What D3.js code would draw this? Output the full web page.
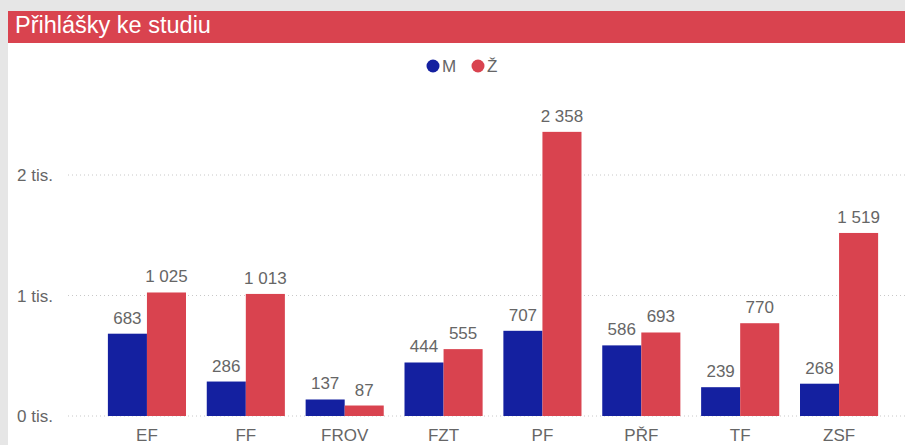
<!DOCTYPE html>
<html>
<head>
<meta charset="utf-8">
<script src="https://cdn.jsdelivr.net/npm/d3@7"></script>
<style>
  body { margin: 0; background: #e6e6e6; }
  svg { display: block; }
  text { font-family: "Liberation Sans", Arial, sans-serif; }
</style>
</head>
<body>
<svg id="chart" width="905" height="445"></svg>
<script>
const categories = ["EF", "FF", "FROV", "FZT", "PF", "PŘF", "TF", "ZSF"];
const seriesNames = ["M", "Ž"];
const valuesM = [683, 286, 137, 444, 707, 586, 239, 268];
const valuesZ = [1025, 1013, 87, 555, 2358, 693, 770, 1519];
const yTicks = [0, 1000, 2000];
const colors = ["#1420a0", "#d9434f"];

const width = 905, height = 445;
const margin = { top: 60, right: 17, left: 98, bottom: 29 };

const svg = d3.select("#chart");

// panel + title bar
svg.append("rect").attr("x", 8).attr("y", 11).attr("width", width - 8).attr("height", height - 11).attr("fill", "#fff");
svg.append("rect").attr("x", 8).attr("y", 11).attr("width", width - 8).attr("height", 32).attr("fill", "#d9434f");
svg.append("text").attr("x", 15).attr("y", 33).attr("fill", "#fff")
  .attr("font-size", 23.5).text("Přihlášky ke studiu");

const x = d3.scaleBand().domain(categories).range([margin.left, width - margin.right]).paddingInner(0.21).paddingOuter(0.1);
const x1 = d3.scaleBand().domain(seriesNames).range([0, x.bandwidth()]);
const y = d3.scaleLinear().domain([0, 2000]).range([416, 175]);

// gridlines
svg.append("g").selectAll("line").data(yTicks).join("line")
  .attr("x1", 68).attr("x2", width)
  .attr("y1", d => y(d)).attr("y2", d => y(d))
  .attr("stroke", "#c8c8c8").attr("stroke-width", 1).attr("stroke-dasharray", "1,3");

svg.append("g").selectAll("text").data(yTicks).join("text")
  .attr("x", 17).attr("y", d => y(d) + 6)
  .attr("fill", "#666").attr("font-size", 17)
  .text(d => (d / 1000) + " tis.");

const rows = categories.map((c, i) => ({ cat: c, vals: [valuesM[i], valuesZ[i]] }));
const fmt = v => d3.format(",")(v).replace(/,/g, " ");

const groups = svg.append("g").selectAll("g").data(rows).join("g")
  .attr("transform", d => `translate(${x(d.cat)},0)`);

groups.selectAll("rect").data(d => d.vals.map((v, k) => ({ k, v }))).join("rect")
  .attr("x", d => x1(seriesNames[d.k]))
  .attr("width", x1.bandwidth())
  .attr("y", d => y(d.v))
  .attr("height", d => y(0) - y(d.v))
  .attr("fill", d => colors[d.k]);

groups.selectAll("text.val").data(d => d.vals.map((v, k) => ({ k, v }))).join("text")
  .attr("class", "val")
  .attr("x", d => x1(seriesNames[d.k]) + x1.bandwidth() / 2)
  .attr("y", d => y(d.v) - 10)
  .attr("text-anchor", "middle").attr("fill", "#666").attr("font-size", 17)
  .text(d => fmt(d.v));

// x axis labels
svg.append("g").selectAll("text").data(categories).join("text")
  .attr("x", d => x(d) + x.bandwidth() / 2).attr("y", 441)
  .attr("text-anchor", "middle").attr("fill", "#666").attr("font-size", 17)
  .text(d => d);

// legend
const legend = svg.append("g").attr("transform", "translate(427,66)");
seriesNames.forEach((s, i) => {
  const g = legend.append("g").attr("transform", `translate(${i * 45},0)`);
  g.append("circle").attr("cx", 6).attr("cy", 0).attr("r", 6.5).attr("fill", colors[i]);
  g.append("text").attr("x", 15).attr("y", 6).attr("fill", "#666").attr("font-size", 17).text(s);
});
</script>
</body>
</html>
